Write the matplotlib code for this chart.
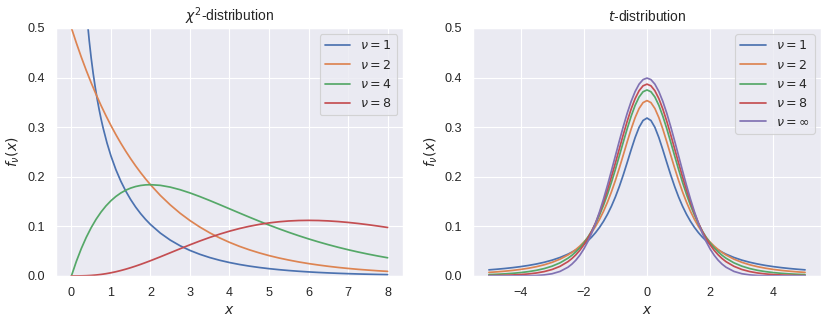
import matplotlib
matplotlib.use("Agg")
import matplotlib.pyplot as plt
import seaborn as sns

sns.set_theme()
plt.rcParams['font.family'] = ['Liberation Sans', 'DejaVu Sans']

# ---- chi-squared data ----
chi_x = [0, 0.125, 0.25, 0.375, 0.5, 0.625, 0.75, 0.875, 1, 1.125, 1.25, 1.375, 1.5, 1.625,
         1.75, 1.875, 2, 2.25, 2.5, 2.75, 3, 3.25, 3.5, 3.75, 4, 4.25, 4.5, 4.75, 5, 5.25,
         5.5, 5.75, 6, 6.25, 6.5, 6.75, 7, 7.25, 7.5, 7.75, 8]
chi1_x = [0.25, 0.3, 0.35, 0.4, 0.45, 0.5, 0.55, 0.6, 0.65, 0.7, 0.75, 0.8, 0.9, 1, 1.125,
          1.25, 1.375, 1.5, 1.625, 1.75, 1.875, 2, 2.25, 2.5, 2.75, 3, 3.25, 3.5, 3.75, 4,
          4.25, 4.5, 4.75, 5, 5.25, 5.5, 5.75, 6, 6.25, 6.5, 6.75, 7, 7.25, 7.5, 7.75, 8]
chi_nu1 = [0.70412, 0.62691, 0.56608, 0.51644, 0.47488, 0.43939, 0.40860, 0.38155, 0.35753,
           0.33602, 0.31660, 0.29898, 0.26814, 0.24197, 0.21431, 0.19099, 0.17107, 0.15387,
           0.13887, 0.12571, 0.11409, 0.10378, 0.08635, 0.07229, 0.06083, 0.05139, 0.04358,
           0.03706, 0.03159, 0.02700, 0.02311, 0.01982, 0.01703, 0.01464, 0.01261, 0.01087,
           0.00939, 0.00811, 0.00701, 0.00607, 0.00525, 0.00455, 0.00395, 0.00343, 0.00297,
           0.00258]
chi_nu2 = [0.5, 0.46971, 0.4412, 0.41451, 0.3894, 0.36581, 0.3436, 0.32282, 0.3033, 0.28489,
           0.2676, 0.25142, 0.2362, 0.22187, 0.2084, 0.19580, 0.1839, 0.1623, 0.1433, 0.1264,
           0.1116, 0.0985, 0.0869, 0.0767, 0.0677, 0.0597, 0.0527, 0.0465, 0.0410, 0.0362,
           0.0320, 0.0282, 0.0249, 0.0220, 0.0194, 0.0171, 0.0151, 0.0133, 0.0118, 0.0104,
           0.0092]
chi_nu4 = [0, 0.02936, 0.05516, 0.07772, 0.09735, 0.11432, 0.12887, 0.14124, 0.15163, 0.16025,
           0.16727, 0.17285, 0.17714, 0.18027, 0.18238, 0.18356, 0.18394, 0.18262, 0.17907,
           0.17383, 0.16735, 0.15999, 0.15205, 0.14377, 0.13534, 0.12690, 0.11857, 0.11045,
           0.10261, 0.09508, 0.08790, 0.08110, 0.07468, 0.06865, 0.06301, 0.05774, 0.05284,
           0.04830, 0.04410, 0.04021, 0.03663]
chi_nu8 = [0, 0.0000191, 0.000144, 0.000455, 0.001014, 0.001861, 0.003020, 0.004506, 0.006318,
           0.008451, 0.010890, 0.013616, 0.016607, 0.019835, 0.023272, 0.026890, 0.030657,
           0.038521, 0.046632, 0.054774, 0.062755, 0.070413, 0.077610, 0.084240, 0.090223,
           0.095504, 0.100047, 0.103838, 0.106882, 0.109190, 0.110792, 0.111721, 0.112021,
           0.111738, 0.110920, 0.109621, 0.107891, 0.105785, 0.103351, 0.100632, 0.097685]

# ---- t data ----
t_x = [-5, -4.75, -4.5, -4.25, -4, -3.75, -3.5, -3.25, -3, -2.75, -2.5, -2.375, -2.25, -2.125,
       -2, -1.875, -1.75, -1.625, -1.5, -1.375, -1.25, -1.125, -1, -0.875, -0.75, -0.625,
       -0.5, -0.375, -0.25, -0.125, 0, 0.125, 0.25, 0.375, 0.5, 0.625, 0.75, 0.875, 1, 1.125,
       1.25, 1.375, 1.5, 1.625, 1.75, 1.875, 2, 2.125, 2.25, 2.375, 2.5, 2.75, 3, 3.25, 3.5,
       3.75, 4, 4.25, 4.5, 4.75, 5]
t_nu1 = [0.01224, 0.01351, 0.01498, 0.01670, 0.01872, 0.02113, 0.02402, 0.02753, 0.03183,
         0.03718, 0.04390, 0.04793, 0.05251, 0.05771, 0.06366, 0.07049, 0.07835, 0.08743,
         0.09794, 0.11012, 0.12422, 0.14050, 0.15915, 0.18028, 0.20372, 0.22890, 0.25465,
         0.27907, 0.29959, 0.31341, 0.31831, 0.31341, 0.29959, 0.27907, 0.25465, 0.22890,
         0.20372, 0.18028, 0.15915, 0.14050, 0.12422, 0.11012, 0.09794, 0.08743, 0.07835,
         0.07049, 0.06366, 0.05771, 0.05251, 0.04793, 0.04390, 0.03718, 0.03183, 0.02753,
         0.02402, 0.02113, 0.01872, 0.01670, 0.01498, 0.01351, 0.01224]
t_nu2 = [0.00713, 0.00821, 0.00953, 0.01113, 0.01309, 0.01553, 0.01859, 0.02246, 0.02741,
         0.03382, 0.04220, 0.04735, 0.05328, 0.06013, 0.06804, 0.07720, 0.08779, 0.10003,
         0.11413, 0.13031, 0.14872, 0.16945, 0.19245, 0.21742, 0.24378, 0.27054, 0.29630,
         0.31929, 0.33761, 0.34945, 0.35355, 0.34945, 0.33761, 0.31929, 0.29630, 0.27054,
         0.24378, 0.21742, 0.19245, 0.16945, 0.14872, 0.13031, 0.11413, 0.10003, 0.08779,
         0.07720, 0.06804, 0.06013, 0.05328, 0.04735, 0.04220, 0.03382, 0.02741, 0.02246,
         0.01859, 0.01553, 0.01309, 0.01113, 0.00953, 0.00821, 0.00713]
t_nu4 = [0.00265, 0.00330, 0.00414, 0.00525, 0.00671, 0.00865, 0.01127, 0.01483, 0.01969,
         0.02640, 0.03568, 0.04158, 0.04854, 0.05671, 0.06629, 0.07749, 0.09053, 0.10560,
         0.12288, 0.14249, 0.16444, 0.18861, 0.21466, 0.24204, 0.26988, 0.29707, 0.32226,
         0.34397, 0.36074, 0.37136, 0.37500, 0.37136, 0.36074, 0.34397, 0.32226, 0.29707,
         0.26988, 0.24204, 0.21466, 0.18861, 0.16444, 0.14249, 0.12288, 0.10560, 0.09053,
         0.07749, 0.06629, 0.05671, 0.04854, 0.04158, 0.03568, 0.02640, 0.01969, 0.01483,
         0.01127, 0.00865, 0.00671, 0.00525, 0.00414, 0.00330, 0.00265]
t_nu8 = [0.00066, 0.00093, 0.00132, 0.00190, 0.00276, 0.00402, 0.00592, 0.00876, 0.01301,
         0.01936, 0.02877, 0.03504, 0.04256, 0.05161, 0.06237, 0.07507, 0.08994, 0.10713,
         0.12677, 0.14886, 0.17326, 0.19968, 0.22761, 0.25630, 0.28482, 0.31204, 0.33669,
         0.35754, 0.37339, 0.38332, 0.38670, 0.38332, 0.37339, 0.35754, 0.33669, 0.31204,
         0.28482, 0.25630, 0.22761, 0.19968, 0.17326, 0.14886, 0.12677, 0.10713, 0.08994,
         0.07507, 0.06237, 0.05161, 0.04256, 0.03504, 0.02877, 0.01936, 0.01301, 0.00876,
         0.00592, 0.00402, 0.00276, 0.00190, 0.00132, 0.00093, 0.00066]
t_nuinf = [0.0000015, 0.000005, 0.000016, 0.00005, 0.00013, 0.00035, 0.00087, 0.00203, 0.00443,
           0.00909, 0.01753, 0.02377, 0.03174, 0.04172, 0.05399, 0.06879, 0.08628, 0.10654,
           0.12952, 0.15501, 0.18265, 0.21187, 0.24197, 0.27206, 0.30114, 0.32816, 0.35207,
           0.37185, 0.38667, 0.39584, 0.39894, 0.39584, 0.38667, 0.37185, 0.35207, 0.32816,
           0.30114, 0.27206, 0.24197, 0.21187, 0.18265, 0.15501, 0.12952, 0.10654, 0.08628,
           0.06879, 0.05399, 0.04172, 0.03174, 0.02377, 0.01753, 0.00909, 0.00443, 0.00203,
           0.00087, 0.00035, 0.00013, 0.00005, 0.000016, 0.000005, 0.0000015]

chi_labels = [r'$\nu=1$', r'$\nu=2$', r'$\nu=4$', r'$\nu=8$']
t_labels = [r'$\nu=1$', r'$\nu=2$', r'$\nu=4$', r'$\nu=8$', r'$\nu=\infty$']

fig = plt.figure(figsize=(10, 325 / 83), dpi=83)
ax1 = fig.add_axes([0.067, 0.151, 0.419, 0.763])
ax2 = fig.add_axes([0.570, 0.151, 0.419, 0.763])

ax1.plot(chi1_x, chi_nu1, label=chi_labels[0])
ax1.plot(chi_x, chi_nu2, label=chi_labels[1])
ax1.plot(chi_x, chi_nu4, label=chi_labels[2])
ax1.plot(chi_x, chi_nu8, label=chi_labels[3])
ax1.set_xlim(-0.4, 8.4)
ax1.set_ylim(0, 0.5)
ax1.set_title(r'$\chi^2$-distribution')
ax1.set_xlabel(r'$x$')
ax1.set_ylabel(r'$f_\nu(x)$')
ax1.legend(loc='upper right')

for vals, lab in zip([t_nu1, t_nu2, t_nu4, t_nu8, t_nuinf], t_labels):
    ax2.plot(t_x, vals, label=lab)
ax2.set_xlim(-5.5, 5.5)
ax2.set_ylim(0, 0.5)
ax2.set_title(r'$t$-distribution')
ax2.set_xlabel(r'$x$')
ax2.set_ylabel(r'$f_\nu(x)$')
ax2.legend(loc='upper right')

fig.savefig('out.png', dpi=83)
